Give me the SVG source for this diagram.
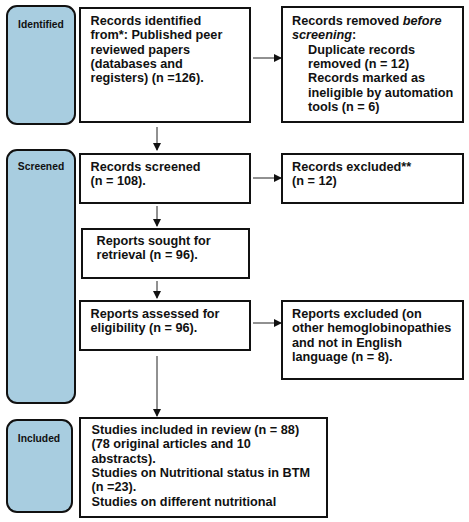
<svg xmlns="http://www.w3.org/2000/svg" width="469" height="522" viewBox="0 0 469 522">
<style>
.side{fill:#a8cde0;stroke:#111;stroke-width:2}
.box{fill:#fff;stroke:#111;stroke-width:2}
.t{font-family:"Liberation Sans",Arial,sans-serif;font-weight:bold;font-size:12.7px;fill:#111}
.s{font-family:"Liberation Sans",Arial,sans-serif;font-weight:bold;font-size:10.3px;fill:#111;text-anchor:middle}
.c{stroke:#222;stroke-width:1;fill:none}
</style>
<defs>
<marker id="ah" markerWidth="8" markerHeight="8" refX="7" refY="4" orient="auto" markerUnits="userSpaceOnUse">
<path d="M0,0 L8,4 L0,8 Z" fill="#111"/>
</marker>
</defs>
<rect width="469" height="522" fill="#fff"/>
<g id="phase-identified">
<rect class="side" x="7" y="6" width="68" height="118" rx="10"/>
<text class="s" x="41" y="28">Identified</text>
</g>
<g id="phase-screened">
<rect class="side" x="7" y="150" width="68" height="253" rx="10"/>
<text class="s" x="41" y="170">Screened</text>
</g>
<g id="phase-included">
<rect class="side" x="7" y="420" width="65" height="92" rx="10"/>
<text class="s" x="39" y="442">Included</text>
</g>
<g id="records-identified">
<rect class="box" x="80" y="8" width="170" height="114"/>
<text class="t" x="90.5" y="25">Records identified</text>
<text class="t" x="90.5" y="39.3">from*: Published peer</text>
<text class="t" x="90.5" y="53.6">reviewed papers</text>
<text class="t" x="90.5" y="67.9">(databases and</text>
<text class="t" x="90.5" y="82.2">registers) (n =126).</text>
</g>
<g id="records-removed">
<rect class="box" x="282" y="7" width="181" height="115"/>
<text class="t" x="292" y="25">Records removed <tspan font-style="italic">before</tspan></text>
<text class="t" x="292" y="39.3"><tspan font-style="italic">screening</tspan>:</text>
<text class="t" x="308" y="53.6">Duplicate records</text>
<text class="t" x="308" y="67.9">removed (n = 12)</text>
<text class="t" x="308" y="82.2">Records marked as</text>
<text class="t" x="308" y="96.5">ineligible by automation</text>
<text class="t" x="308" y="110.8">tools (n = 6)</text>
</g>
<g id="records-screened">
<rect class="box" x="80" y="154" width="170" height="49"/>
<text class="t" x="90.5" y="171">Records screened</text>
<text class="t" x="90.5" y="185.3">(n = 108).</text>
</g>
<g id="records-excluded">
<rect class="box" x="282" y="154" width="181" height="49"/>
<text class="t" x="292" y="171">Records excluded**</text>
<text class="t" x="292" y="185.3">(n = 12)</text>
</g>
<g id="reports-sought">
<rect class="box" x="82" y="229" width="167" height="49"/>
<text class="t" x="96.5" y="245">Reports sought for</text>
<text class="t" x="96.5" y="259.3">retrieval (n = 96).</text>
</g>
<g id="reports-assessed">
<rect class="box" x="80" y="301" width="170" height="49"/>
<text class="t" x="90.5" y="318">Reports assessed for</text>
<text class="t" x="90.5" y="332.3">eligibility (n = 96).</text>
</g>
<g id="reports-excluded">
<rect class="box" x="282" y="301" width="181" height="78"/>
<text class="t" x="292" y="318">Reports excluded (on</text>
<text class="t" x="292" y="332.3">other hemoglobinopathies</text>
<text class="t" x="292" y="346.6">and not in English</text>
<text class="t" x="292" y="360.9">language (n = 8).</text>
</g>
<g id="studies-included">
<rect class="box" x="80" y="418" width="247" height="99"/>
<text class="t" x="91.5" y="434">Studies included in review (n = 88)</text>
<text class="t" x="91.5" y="448.3">(78 original articles and 10</text>
<text class="t" x="91.5" y="462.6">abstracts).</text>
<text class="t" x="91.5" y="476.9">Studies on Nutritional status in BTM</text>
<text class="t" x="91.5" y="491.2">(n =23).</text>
<text class="t" x="91.5" y="505.5">Studies on different nutritional</text>
</g>
<g id="connectors">
<line class="c" x1="157" y1="127" x2="157" y2="150" marker-end="url(#ah)"/>
<line class="c" x1="157" y1="206" x2="157" y2="226" marker-end="url(#ah)"/>
<line class="c" x1="157" y1="281" x2="157" y2="298" marker-end="url(#ah)"/>
<line class="c" x1="157" y1="356" x2="157" y2="416" marker-end="url(#ah)"/>
<line class="c" x1="253" y1="58" x2="281" y2="58" marker-end="url(#ah)"/>
<line class="c" x1="253" y1="178" x2="281" y2="178" marker-end="url(#ah)"/>
<line class="c" x1="253" y1="323" x2="281" y2="323" marker-end="url(#ah)"/>
</g>
</svg>
